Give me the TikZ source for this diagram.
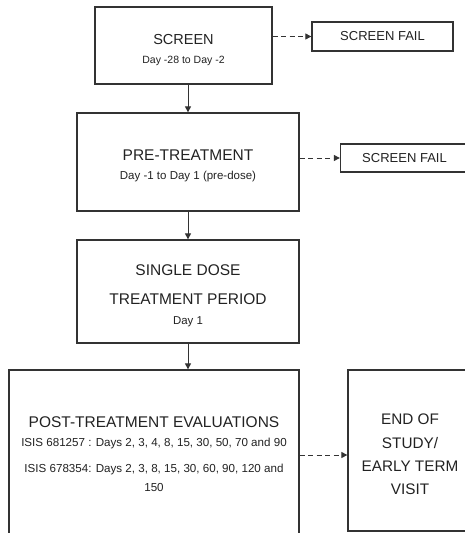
\documentclass[tikz,border=0pt]{standalone}
\usepackage{fontspec}
\setmainfont{Liberation Sans}
\usetikzlibrary{arrows.meta,calc}
\definecolor{ln}{HTML}{333333}
\definecolor{tx}{HTML}{222222}
\tikzset{
  box/.style={draw=ln, line width=1.3pt, text=tx, align=center, inner sep=0pt},
  solidarrow/.style={draw=ln, line width=1pt, -{Triangle[length=6pt,width=6pt]}},
  dasharrow/.style={draw=ln, line width=1pt, dash pattern=on 5pt off 3.5pt, -{Triangle[length=6pt,width=6pt]}},
}
\begin{document}
\begin{tikzpicture}[x=1pt,y=-1pt]
\clip (0,0) rectangle (465,533);
\fill[white] (0,0) rectangle (465,533);
\node[box, minimum width=177pt, minimum height=77pt, font=\fontsize{10.5}{19}\selectfont] (screen) at (183.5,45.5)
  {\rule{0pt}{19.5pt}\fontsize{14.5}{19}\selectfont SCREEN\\\fontsize{10.5}{19}\selectfont Day -28 to Day -2};
\node[box, minimum width=141pt, minimum height=29pt, font=\fontsize{13}{15}\selectfont] (sf1) at (382.5,36.5) {SCREEN FAIL};
\node[box, minimum width=222pt, minimum height=98pt, font=\fontsize{11.5}{19}\selectfont] (pre) at (188,162)
  {\rule{0pt}{19pt}\fontsize{15.5}{19}\selectfont PRE-TREATMENT\\\fontsize{11.5}{19}\selectfont Day -1 to Day 1 (pre-dose)};
\node[box, minimum width=128pt, minimum height=28pt, font=\fontsize{13}{15}\selectfont] (sf2) at (404.5,158) {SCREEN FAIL};
\node[box, minimum width=222pt, minimum height=103pt, font=\fontsize{11.4}{20}\selectfont] (single) at (188,291.5)
  {\rule{0pt}{20pt}\fontsize{15.5}{20}\selectfont SINGLE DOSE\\[9pt]\fontsize{15.5}{20}\selectfont TREATMENT PERIOD\\\fontsize{11.4}{20}\selectfont Day 1};
\node[box, minimum width=290pt, minimum height=172pt, font=\fontsize{11.6}{19}\selectfont] (post) at (154,456)
  {\fontsize{15.5}{19}\selectfont POST-TREATMENT EVALUATIONS\\[0pt]
   ISIS 681257 : Days 2, 3, 4, 8, 15, 30, 50, 70 and 90\\[7pt]
   ISIS 678354: Days 2, 3, 8, 15, 30, 60, 90, 120 and\\
   150\rule[-3pt]{0pt}{0pt}};
\node[box, minimum width=124pt, minimum height=161pt, font=\fontsize{15.3}{23.3}\selectfont] (eos) at (410,450.5)
  {\rule{0pt}{19pt}END OF\\STUDY/\\EARLY TERM\\VISIT};
\draw[dasharrow] (screen.east |- sf1.west) -- (sf1.west);
\draw[dasharrow] (pre.east |- sf2.west) -- (sf2.west);
\draw[dasharrow] (post.east |- 0,455) -- (eos.west |- 0,455);
\draw[solidarrow] (screen.south -| pre.north) -- (pre.north);
\draw[solidarrow] (pre.south) -- (single.north);
\draw[solidarrow] (single.south) -- (single.south |- post.north);
\end{tikzpicture}
\end{document}
